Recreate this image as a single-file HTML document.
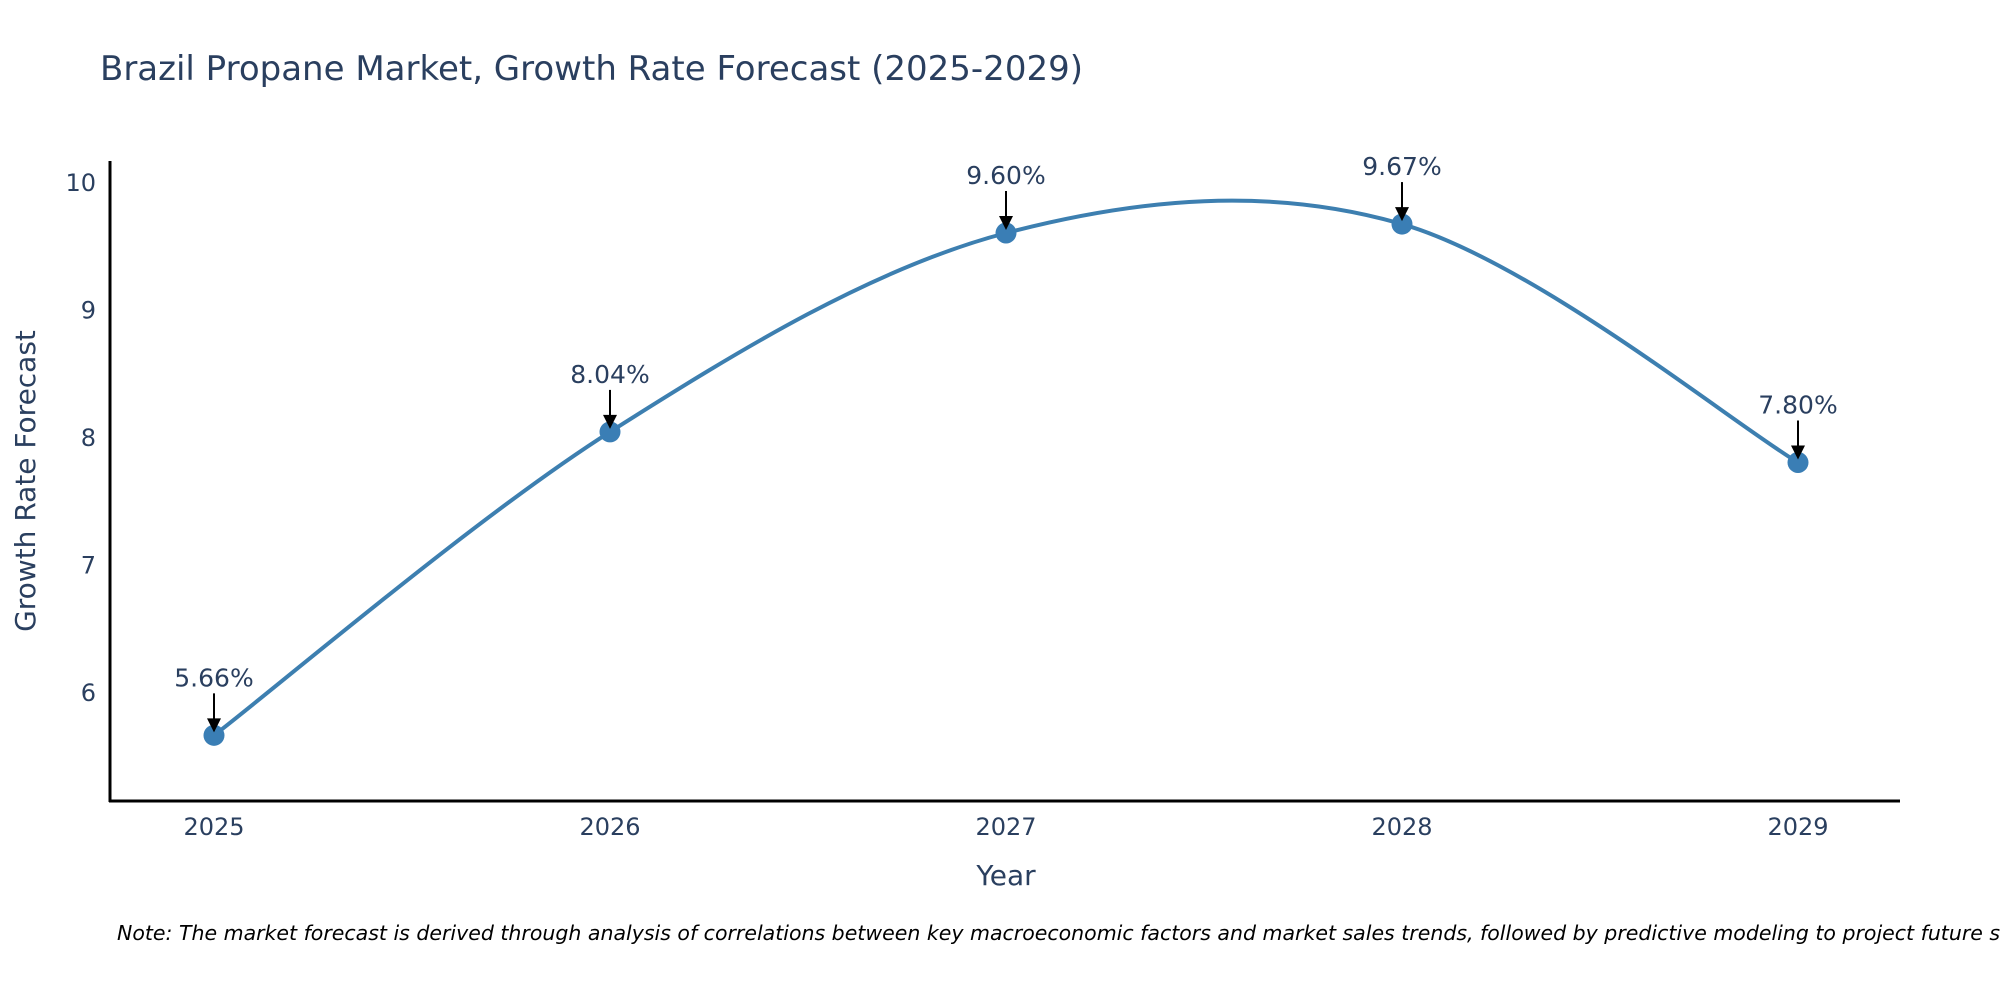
<!DOCTYPE html>
<html><head><meta charset="utf-8"><style>
html,body{margin:0;padding:0;background:#fff;}
svg{display:block;font-family:"DejaVu Sans","Liberation Sans",sans-serif;}
</style></head><body>
<svg id="chart" width="2000" height="1000" viewBox="0 0 2000 1000">
<text x="100" y="80" font-size="34" fill="#2a3f5f">Brazil Propane Market, Growth Rate Forecast (2025-2029)</text>
<g id="plot"></g>
<line x1="110" y1="161" x2="110" y2="802" stroke="#000" stroke-width="3"/>
<line x1="109" y1="801" x2="1900" y2="801" stroke="#000" stroke-width="3"/>
<text x="1006" y="885" font-size="28" fill="#2a3f5f" text-anchor="middle">Year</text>
<text transform="translate(35,481) rotate(-90)" font-size="28" fill="#2a3f5f" text-anchor="middle">Growth Rate Forecast</text>
<text x="117" y="940" font-size="20.5" font-style="italic" fill="#000">Note: The market forecast is derived through analysis of correlations between key macroeconomic factors and market sales trends, followed by predictive modeling to project future sales.</text>
</svg>
<script>
const years = [2025, 2026, 2027, 2028, 2029];
const values = [5.66, 8.04, 9.60, 9.67, 7.80];
const labels = ["5.66%", "8.04%", "9.60%", "9.67%", "7.80%"];
const yTicks = [6, 7, 8, 9, 10];

const NS = "http://www.w3.org/2000/svg";
const g = document.getElementById("plot");
const xs = y => 214 + (y - 2025) * 396;
const ys = v => 692 - (v - 6) * 127.5;
function mk(tag, attrs, parent) {
  const e = document.createElementNS(NS, tag);
  for (const k in attrs) e.setAttribute(k, attrs[k]);
  (parent || g).appendChild(e);
  return e;
}
yTicks.forEach(t => {
  const e = mk("text", {x: 96, y: ys(t) + 9, "font-size": 24, fill: "#2a3f5f", "text-anchor": "end"});
  e.textContent = t;
  
  
});
years.forEach(yr => {
  const e = mk("text", {x: xs(yr), y: 835, "font-size": 24, fill: "#2a3f5f", "text-anchor": "middle"});
  e.textContent = yr;
  
  
});
const P = years.map((yr, i) => [xs(yr), ys(values[i])]);
let d = "M" + P[0][0] + "," + P[0][1];
for (let i = 0; i < P.length - 1; i++) {
  const p0 = P[i - 1] || P[i], p1 = P[i], p2 = P[i + 1], p3 = P[i + 2] || P[i + 1];
  const c1 = [p1[0] + (p2[0] - p0[0]) / 6, p1[1] + (p2[1] - p0[1]) / 6];
  const c2 = [p2[0] - (p3[0] - p1[0]) / 6, p2[1] - (p3[1] - p1[1]) / 6];
  d += " C" + c1 + " " + c2 + " " + p2;
}
const line = mk("path", {d: d, fill: "none", stroke: "#3d7fb0", "stroke-width": 4});


P.forEach((p, i) => {
  const c = mk("circle", {cx: p[0], cy: p[1], r: 10.5, fill: "#3a7eb5"});
  
  
  const a = mk("line", {x1: p[0], y1: p[1] - 42, x2: p[0], y2: p[1] - 14, stroke: "#000", "stroke-width": 2});
  
  
  const h = mk("polygon", {points: (p[0] - 7) + "," + (p[1] - 17) + " " + (p[0] + 7) + "," + (p[1] - 17) + " " + p[0] + "," + (p[1] - 3), fill: "#000"});
  
  
  const t = mk("text", {x: p[0], y: p[1] - 49, "font-size": 25, fill: "#2a3f5f", "text-anchor": "middle"});
  t.textContent = labels[i];
  
  
});
</script>
</body></html>
